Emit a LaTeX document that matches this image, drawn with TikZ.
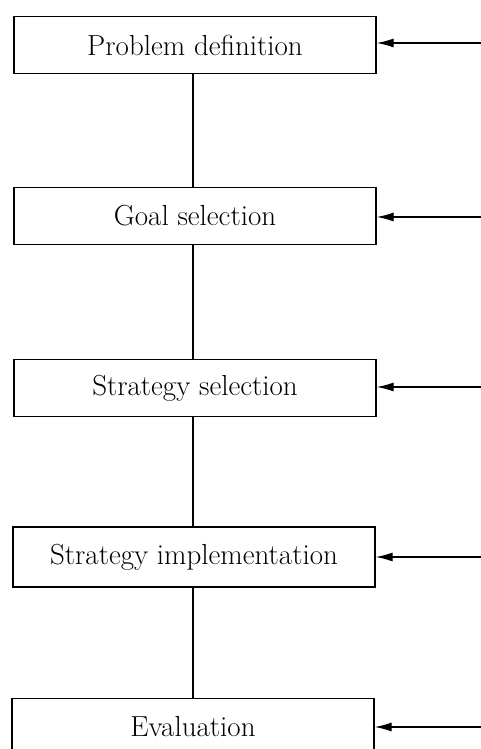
\documentclass[tikz,border=0pt]{standalone}
\usetikzlibrary{arrows.meta}
\begin{document}
\begin{tikzpicture}[x=1pt,y=1pt,
  stagebox/.style={draw, line width=1.3pt, minimum width=362pt, minimum height=57pt,
    inner sep=0pt, font=\fontsize{29}{34}\selectfont},
  feed/.style={line width=1.3pt, -{Latex[length=17pt,width=9pt]}},
  link/.style={line width=1.3pt}]
\useasboundingbox (0,0) rectangle (481,749);
\node[stagebox] (b1) at (195,704) {Problem definition};
\node[stagebox] (b2) at (195,533) {Goal selection};
\node[stagebox] (b3) at (195,361) {Strategy selection};
\node[stagebox, minimum height=60pt] (b4) at (194,192) {Strategy implementation};
\node[stagebox] (b5) at (193,22) {Evaluation};
\coordinate (e1) at (481,706);
\coordinate (e2) at (481,532);
\coordinate (e3) at (481,362);
\coordinate (e4) at (481,192);
\coordinate (e5) at (481,22);
\draw[feed] (e1) -- (b1.east |- e1);
\draw[feed] (e2) -- (b2.east |- e2);
\draw[feed] (e3) -- (b3.east |- e3);
\draw[feed] (e4) -- (b4.east |- e4);
\draw[feed] (e5) -- (b5.east |- e5);
\draw[link] ([xshift=-2pt]b1.south) -- ([xshift=-2pt]b2.north);
\draw[link] ([xshift=-2pt]b2.south) -- ([xshift=-2pt]b3.north);
\draw[link] ([xshift=-2pt]b3.south) -- ([xshift=-1pt]b4.north);
\draw[link] ([xshift=-1pt]b4.south) -- (b5.north);
\end{tikzpicture}
\end{document}
